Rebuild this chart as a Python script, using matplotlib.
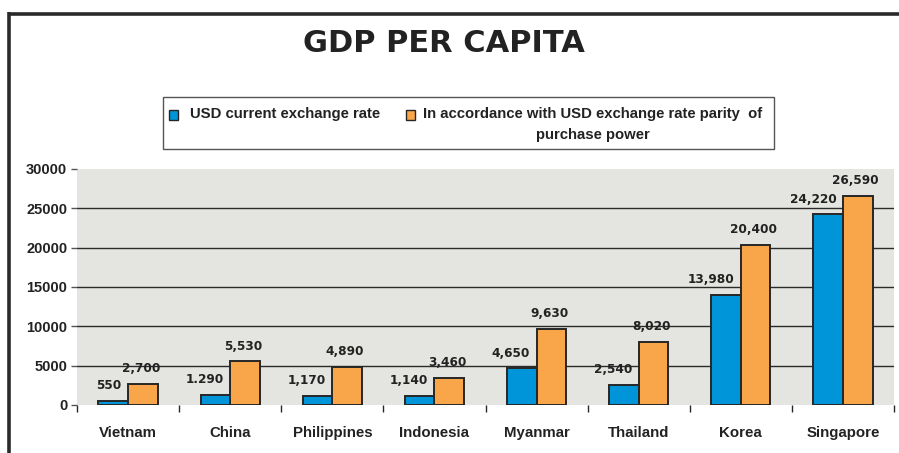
import matplotlib
matplotlib.use("Agg")
import matplotlib.pyplot as plt
import numpy as np
from matplotlib.lines import Line2D
from matplotlib.patches import Rectangle

countries = ["Vietnam", "China", "Philippines", "Indonesia", "Myanmar",
             "Thailand", "Korea", "Singapore"]
usd_current = [550, 1290, 1170, 1140, 4650, 2540, 13980, 24220]
usd_ppp = [2700, 5530, 4890, 3460, 9630, 8020, 20400, 26590]
usd_current_labels = ["550", "1.290", "1,170", "1,140", "4,650", "2,540", "13,980", "24,220"]
usd_ppp_labels = ["2,700", "5,530", "4,890", "3,460", "9,630", "8,020", "20,400", "26,590"]
y_ticks = [0, 5000, 10000, 15000, 20000, 25000, 30000]

BLUE = "#0095d8"
ORANGE = "#f9a54a"
EDGE = "#262626"
TEXT = "#222222"
SANS = ["Liberation Sans", "DejaVu Sans"]

fig = plt.figure(figsize=(8.99, 4.53), dpi=100)
ax = fig.add_axes([77 / 899, 1 - 405 / 453, (894 - 77) / 899, (405 - 169) / 453])
ax.set_facecolor("#e4e4e0")

x = np.arange(len(countries))
w = 0.29
b1 = ax.bar(x - w / 2, usd_current, w, color=BLUE, edgecolor=EDGE, linewidth=1.4, zorder=3)
b2 = ax.bar(x + w / 2, usd_ppp, w, color=ORANGE, edgecolor=EDGE, linewidth=1.4, zorder=3)

for rect, lab in zip(b1, usd_current_labels):
    ax.annotate(lab, (rect.get_x() + rect.get_width(), rect.get_height()),
                xytext=(-4.5, 11), textcoords="offset points", ha="right", va="center",
                fontsize=8.7, fontweight="bold", family="DejaVu Sans", color=TEXT)
for rect, lab in zip(b2, usd_ppp_labels):
    ax.annotate(lab, (rect.get_x() + rect.get_width() / 2, rect.get_height()),
                xytext=(-1.5, 11), textcoords="offset points", ha="center", va="center",
                fontsize=8.7, fontweight="bold", family="DejaVu Sans", color=TEXT)

ax.set_xlim(-0.5, len(countries) - 0.5)
ax.set_ylim(0, 30000)
ax.set_yticks(y_ticks)
ax.set_yticklabels([str(t) for t in y_ticks], fontsize=10.5, fontweight="bold",
                   family=SANS, color=TEXT)
ax.set_xticks(x)
ax.set_xticklabels(countries, fontsize=10.8, fontweight="bold", family=SANS, color=TEXT)
ax.set_xticks(np.arange(-0.5, len(countries)), minor=True)
ax.tick_params(axis="x", which="major", length=0, pad=15)
ax.tick_params(axis="x", which="minor", length=5, width=1, color=EDGE, direction="out")
ax.tick_params(axis="y", length=4, width=1, color="#555555", pad=3)

for t in y_ticks[1:-1]:
    ax.axhline(t, color="#2a2a2a", linewidth=1, zorder=1)
for s in ax.spines.values():
    s.set_visible(False)

# title
fig.text(444 / 899, 1 - 43 / 453, "GDP PER CAPITA", ha="center", va="center",
         fontsize=22, fontweight="bold", family="DejaVu Sans", color=TEXT)

# legend box
fig.add_artist(Rectangle((163 / 899, 1 - 149 / 453), 611 / 899, 52 / 453,
                         transform=fig.transFigure, facecolor="white",
                         edgecolor="#555555", linewidth=1))
fig.add_artist(Rectangle((169 / 899, 1 - 120 / 453), 9 / 899, 10 / 453,
                         transform=fig.transFigure, facecolor=BLUE,
                         edgecolor=EDGE, linewidth=1))
fig.add_artist(Rectangle((406 / 899, 1 - 120 / 453), 9 / 899, 10 / 453,
                         transform=fig.transFigure, facecolor=ORANGE,
                         edgecolor=EDGE, linewidth=1))
fig.text(190 / 899, 1 - 114 / 453, "USD current exchange rate", ha="left", va="center",
         fontsize=10.7, fontweight="bold", family=SANS, color=TEXT)
fig.text(423 / 899, 1 - 107 / 453,
         "In accordance with USD exchange rate parity  of\npurchase power",
         ha="left", va="top", multialignment="center", linespacing=1.6,
         fontsize=10.7, fontweight="bold", family=SANS, color=TEXT)

# outer frame lines (top and left)
fig.add_artist(Line2D([9 / 899, 1], [1 - 13.5 / 453, 1 - 13.5 / 453],
                      transform=fig.transFigure, color="#2a2a2a", linewidth=2.6,
                      solid_capstyle="butt"))
fig.add_artist(Line2D([9 / 899, 9 / 899], [0, 1 - 12 / 453],
                      transform=fig.transFigure, color="#2a2a2a", linewidth=2.6,
                      solid_capstyle="butt"))

fig.savefig("out.png", dpi=100)
